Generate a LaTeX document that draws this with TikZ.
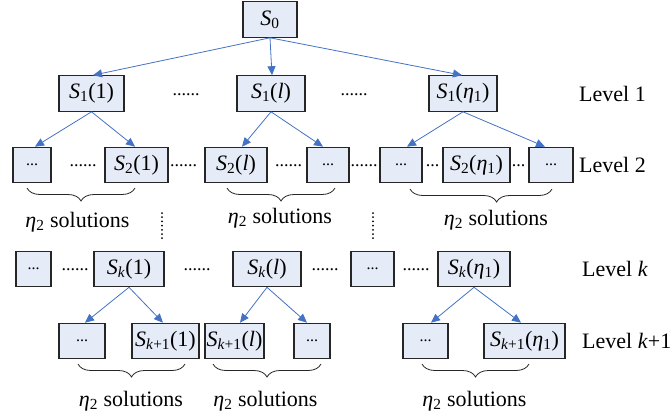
\documentclass[tikz,border=0pt]{standalone}
\usepackage{fontspec}
\setmainfont{Liberation Serif}
\usetikzlibrary{arrows.meta,decorations.pathreplacing}
\definecolor{boxfill}{HTML}{E6ECF7}
\definecolor{arrowblue}{HTML}{4472C4}
\definecolor{boxline}{HTML}{262626}
\newcommand\Sv[2]{\textit{S}\textsubscript{#1}(#2)}
\newcommand\etaone{\textit{η}\textsubscript{1}}
\newcommand\etatwo{\textit{η}\textsubscript{2}}
\newcommand\kpo{\textit{k}+1}
\begin{document}
\begin{tikzpicture}[x=1pt,y=-1pt,
  sbox/.style={draw=boxline, fill=boxfill, line width=1.1pt, minimum height=35.5pt, inner sep=0pt, font=\fontsize{22}{26}\selectfont},
  ebox/.style={sbox, font=\fontsize{16}{18}\selectfont},
  arr/.style={draw=arrowblue, line width=0.8pt, -{Triangle[length=9pt,width=8pt]}},
  hdots/.style={font=\fontsize{18}{18}\selectfont, inner sep=0pt, anchor=base},
  vdots/.style={draw=black, line width=2pt, line cap=round, dash pattern=on 0pt off 4.2pt},
  brc/.style={draw=boxline, line width=0.8pt, decorate, decoration={brace, mirror, amplitude=13pt}},
  lbl/.style={font=\fontsize{22}{26}\selectfont, inner sep=0pt},
  lvl/.style={lbl, anchor=west}
]
\useasboundingbox (0,0) rectangle (672,416);

% root
\node[sbox, minimum width=54pt] (s0) at (270,19.5) {\textit{S}\textsubscript{0}};

% level 1
\node[sbox, minimum width=65pt] (a1) at (91.5,93.5) {\Sv{1}{1}};
\node[sbox, minimum width=68pt] (a2) at (271,93.5) {\Sv{1}{\textit{l}}};
\node[sbox, minimum width=68pt] (a3) at (463,93.5) {\Sv{1}{\etaone}};

% level 2
\node[ebox, minimum width=38pt] (b1) at (32,165) {...};
\node[sbox, minimum width=63pt] (b2) at (136.5,165) {\Sv{2}{1}};
\node[sbox, minimum width=62pt] (b3) at (236,165) {\Sv{2}{\textit{l}}};
\node[ebox, minimum width=42pt] (b4) at (328,165) {...};
\node[ebox, minimum width=42pt] (b5) at (401,165) {...};
\node[sbox, minimum width=67pt] (b6) at (476.5,165) {\Sv{2}{\etaone}};
\node[ebox, minimum width=44pt] (b7) at (551,165) {...};

% level k
\node[ebox, minimum width=35pt] (c1) at (33.5,269) {...};
\node[sbox, minimum width=70pt] (c2) at (129,269) {\Sv{\textit{k}}{1}};
\node[sbox, minimum width=68pt] (c3) at (267,269) {\Sv{\textit{k}}{\textit{l}}};
\node[ebox, minimum width=43pt] (c4) at (372.5,269) {...};
\node[sbox, minimum width=72pt] (c5) at (474,269) {\Sv{\textit{k}}{\etaone}};

% level k+1
\node[ebox, minimum width=46pt] (d1) at (82,341) {...};
\node[sbox, minimum width=67pt] (d2) at (165.5,341) {\Sv{\kpo}{1}};
\node[sbox, minimum width=59pt] (d3) at (234.5,341) {\Sv{\kpo}{\textit{l}}};
\node[ebox, minimum width=36pt] (d4) at (312,341) {...};
\node[ebox, minimum width=45pt] (d5) at (425.5,341) {...};
\node[sbox, minimum width=81pt] (d6) at (524.5,341) {\Sv{\kpo}{\etaone}};

% level labels
\node[lvl] (l1) at (579,93.5) {Level 1};
\node[lvl] (l2) at (579,165) {Level 2};
\node[lvl] (lk) at (582,269) {Level \textit{k}};
\node[lvl] (lk1) at (582,341) {Level \textit{k}+1};

% horizontal dots
\node[hdots] (h1) at (186,95) {......};
\node[hdots] (h2) at (354,95) {......};
\node[hdots] (h3) at (83,166.5) {......};
\node[hdots] (h4) at (183.5,166.5) {......};
\node[hdots] (h5) at (288.5,166.5) {......};
\node[hdots] (h6) at (364,166.5) {......};
\node[hdots] (h7) at (432.5,166.5) {...};
\node[hdots] (h8) at (518.5,166.5) {...};
\node[hdots] (h9) at (75,270.5) {......};
\node[hdots] (h10) at (197,270.5) {......};
\node[hdots] (h11) at (325,270.5) {......};
\node[hdots] (h12) at (416,270.5) {......};

% vertical dots
\draw[vdots] (162,213) -- (162,242);
\draw[vdots] (373,213) -- (373,242);

% arrows
\draw[arr] (s0.south) -- ([xshift=1.5pt]a1.north);
\draw[arr] (s0.south) -- ([xshift=1pt]a2.north);
\draw[arr] (s0.south) -- ([xshift=-1pt]a3.north);
\draw[arr] (a1.south) -- ([xshift=3pt]b1.north);
\draw[arr] (a1.south) -- ([xshift=-1.5pt]b2.north);
\draw[arr] (a2.south) -- ([xshift=6pt]b3.north);
\draw[arr] (a2.south) -- ([xshift=-5pt]b4.north);
\draw[arr] (a3.south) -- ([xshift=6pt]b5.north);
\draw[arr] (a3.south) -- ([xshift=-6pt]b7.north);
\draw[arr] (c2.south) -- ([xshift=3pt]d1.north);
\draw[arr] (c2.south) -- ([xshift=-2.5pt]d2.north);
\draw[arr] (c3.south) -- ([xshift=5.5pt]d3.north);
\draw[arr] (c3.south) -- ([xshift=-5pt]d4.north);
\draw[arr] (c5.south) -- ([xshift=5.5pt]d5.north);
\draw[arr] (c5.south) -- ([xshift=-3.5pt]d6.north);

% braces
\draw[brc] (27,188) -- (135,188);
\draw[brc] (227,188) -- (335,188);
\draw[brc, decoration={brace, mirror, amplitude=13pt, aspect=0.61}] (410,189) -- (552,189);
\draw[brc] (78,364) -- (185,364);
\draw[brc] (213,364) -- (321,364);
\draw[brc] (422,364) -- (529,364);

% brace labels
\node[lbl] (n1) at (77.5,222) {\etatwo{} solutions};
\node[lbl] (n2) at (280,218) {\etatwo{} solutions};
\node[lbl] (n3) at (496,220) {\etatwo{} solutions};
\node[lbl] (n4) at (131,401) {\etatwo{} solutions};
\node[lbl] (n5) at (265.5,401) {\etatwo{} solutions};
\node[lbl] (n6) at (474.5,401) {\etatwo{} solutions};
\end{tikzpicture}
\end{document}
